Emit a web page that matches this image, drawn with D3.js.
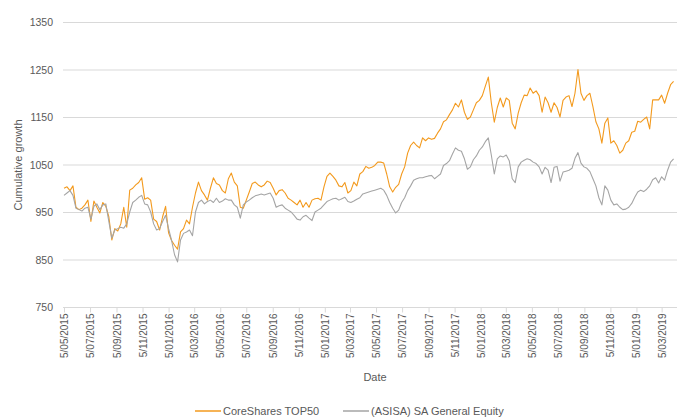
<!DOCTYPE html>
<html>
<head>
<meta charset="utf-8">
<script src="https://cdn.jsdelivr.net/npm/d3@7"></script>
<style>
  body { margin: 0; background: #fff; }
  text { font-family: "Liberation Sans", Arial, sans-serif; fill: #595959; }
</style>
</head>
<body>
<div id="chart"></div>
<script>
const width = 679, height = 417;

// weekly closes, first week 5/05/2015
const startDate = "5/05/2015";
const coreShares = [
  1000, 1003, 995, 1005, 960, 955, 958, 965, 975, 930,
  973, 960, 948, 970, 962, 940, 891, 915, 910, 925,
  960, 918, 996, 1000, 1007, 1012, 1022, 977, 980, 975,
  935, 930, 912, 940, 962, 906, 890, 880, 872, 908,
  915, 933, 925, 960, 990, 1013, 995, 986, 975, 1000,
  1022, 1010, 1007, 995, 990, 1020, 1032, 1013, 1005, 960,
  958, 975, 992, 1010, 1013, 1007, 1003, 1007, 1015, 1012,
  1000, 986, 995, 997, 990, 979, 975, 970, 965, 975,
  960, 970, 960, 975, 978, 979, 975, 1003, 1025, 1032,
  1025, 1017, 1005, 1003, 1012, 990, 995, 1013, 1005, 1030,
  1035, 1046, 1042, 1044, 1048, 1055, 1055, 1053, 1030, 1003,
  992, 1002, 1008, 1030, 1045, 1074, 1090, 1097, 1090, 1085,
  1106, 1100, 1106, 1103, 1105, 1116, 1125, 1140, 1144, 1155,
  1165, 1179, 1171, 1186, 1160, 1145, 1150, 1165, 1180, 1185,
  1195, 1215, 1234, 1180, 1139, 1170, 1190, 1171, 1190, 1185,
  1137, 1125, 1158, 1180, 1196, 1195, 1211, 1200, 1205, 1195,
  1160, 1192, 1180, 1160, 1180, 1170, 1150, 1185, 1192, 1195,
  1172, 1200, 1250, 1200, 1185, 1195, 1200, 1172, 1140, 1125,
  1095, 1137, 1148, 1095, 1100, 1090, 1074, 1080, 1095, 1100,
  1118, 1120, 1141, 1139, 1145, 1150, 1125, 1186, 1186, 1186,
  1196, 1179, 1200, 1218, 1225
];
const asisaEquity = [
  985, 990, 995, 985, 958, 955, 952, 958, 960, 935,
  962, 967, 955, 965, 967, 930, 895, 912, 915, 918,
  916, 925, 950, 970, 975, 981, 985, 967, 965, 950,
  925, 912, 915, 930, 943, 915, 890, 860, 845, 891,
  905, 908, 912, 900, 950, 970, 975, 967, 972, 975,
  970, 979, 970, 973, 978, 975, 975, 965, 960, 937,
  965, 971, 975, 980, 984, 986, 988, 986, 988, 990,
  979, 960, 963, 965, 958, 954, 950, 943, 935, 933,
  940, 943, 937, 932, 950, 954, 958, 965, 972, 975,
  978, 979, 975, 978, 981, 972, 970, 973, 977, 980,
  988, 990, 992, 994, 996, 998, 1000, 996, 985, 970,
  958, 948, 954, 970, 980, 995, 1005, 1017, 1020, 1022,
  1022, 1024, 1026, 1027, 1020, 1025, 1030, 1048, 1052, 1058,
  1072, 1085, 1080, 1078, 1062, 1040, 1045, 1060, 1068, 1080,
  1087, 1098, 1106, 1070, 1030, 1062, 1068, 1066, 1070, 1058,
  1020, 1012, 1045, 1055, 1059, 1062, 1060, 1055, 1052, 1045,
  1030, 1044, 1038, 1012, 1044, 1046, 1015, 1034, 1036, 1038,
  1042, 1063, 1075, 1053, 1045, 1042, 1035, 1020, 1005, 980,
  965, 1005, 996, 975, 965, 967, 960, 955, 956, 960,
  968, 981, 992, 996, 993, 998, 1005, 1018, 1022, 1011,
  1024, 1017, 1038, 1055, 1062
];
const yTicks = [750, 850, 950, 1050, 1150, 1250, 1350];
const xTickLabels = [
  "5/05/2015", "5/07/2015", "5/09/2015", "5/11/2015",
  "5/01/2016", "5/03/2016", "5/05/2016", "5/07/2016", "5/09/2016", "5/11/2016",
  "5/01/2017", "5/03/2017", "5/05/2017", "5/07/2017", "5/09/2017", "5/11/2017",
  "5/01/2018", "5/03/2018", "5/05/2018", "5/07/2018", "5/09/2018", "5/11/2018",
  "5/01/2019", "5/03/2019"
];
const seriesNames = ["CoreShares TOP50", "(ASISA) SA General Equity"];
const colors = ["#F39A1E", "#A5A5A5"];

const parse = d3.timeParse("%-d/%m/%Y");
const start = parse(startDate);
const dates = coreShares.map((_, i) => d3.timeDay.offset(start, i * 7));

const margin = {left: 63, right: 2, top: 22, bottom: 110};

const x = d3.scaleTime()
    .domain([start, parse("10/04/2019")])
    .range([64, 677]);

const y = d3.scaleLinear()
    .domain([750, 1350])
    .range([307, 22]);

const svg = d3.select("#chart").append("svg")
    .attr("width", width)
    .attr("height", height);

// gridlines
svg.append("g")
    .selectAll("line")
    .data(yTicks)
    .enter()
    .append("line")
    .attr("x1", margin.left)
    .attr("x2", width - margin.right)
    .attr("y1", d => y(d) + 0.5)
    .attr("y2", d => y(d) + 0.5)
    .attr("stroke", "#D9D9D9")
    .attr("stroke-width", 1);

// y labels
svg.append("g")
    .selectAll("text")
    .data(yTicks)
    .enter()
    .append("text")
    .attr("x", 53)
    .attr("y", d => y(d) + 4)
    .attr("text-anchor", "end")
    .attr("font-size", "10.5px")
    .text(d => d);

// x axis ticks + labels
const xAxis = d3.axisBottom(x)
    .tickValues(xTickLabels.map(parse))
    .tickSize(5)
    .tickFormat((d, i) => xTickLabels[i]);

const gx = svg.append("g")
    .attr("transform", `translate(0, ${y(750) + 0.5})`)
    .call(xAxis);
gx.select(".domain").remove();
gx.selectAll(".tick line").attr("stroke", "#D9D9D9");
gx.selectAll(".tick text")
    .attr("font-size", "10px")
    .attr("fill", "#595959")
    .attr("font-family", "Liberation Sans, Arial, sans-serif")
    .attr("transform", "rotate(-90)")
    .attr("text-anchor", "end")
    .attr("x", -6)
    .attr("y", 0)
    .attr("dy", "0.35em");

// lines
const line = vals => d3.line()
    .x((d, i) => x(dates[i]))
    .y(d => y(d))(vals);

[coreShares, asisaEquity].forEach((vals, k) => {
    svg.append("path")
        .attr("d", line(vals))
        .attr("fill", "none")
        .attr("stroke", colors[k])
        .attr("stroke-width", 1.1)
        .attr("stroke-linejoin", "round");
});

// axis titles
svg.append("text")
    .attr("transform", "translate(22, 165) rotate(-90)")
    .attr("text-anchor", "middle")
    .attr("font-size", "11px")
    .text("Cumulative growth");

svg.append("text")
    .attr("x", 375)
    .attr("y", 381)
    .attr("text-anchor", "middle")
    .attr("font-size", "11px")
    .text("Date");

// legend
const legendX = [195, 343];
const legend = svg.append("g");
seriesNames.forEach((name, k) => {
    legend.append("line")
        .attr("x1", legendX[k])
        .attr("x2", legendX[k] + 26)
        .attr("y1", 411)
        .attr("y2", 411)
        .attr("stroke", colors[k])
        .attr("stroke-width", 1.5);
    legend.append("text")
        .attr("x", legendX[k] + 28)
        .attr("y", 415)
        .attr("font-size", "11px")
        .text(name);
});
</script>
</body>
</html>
